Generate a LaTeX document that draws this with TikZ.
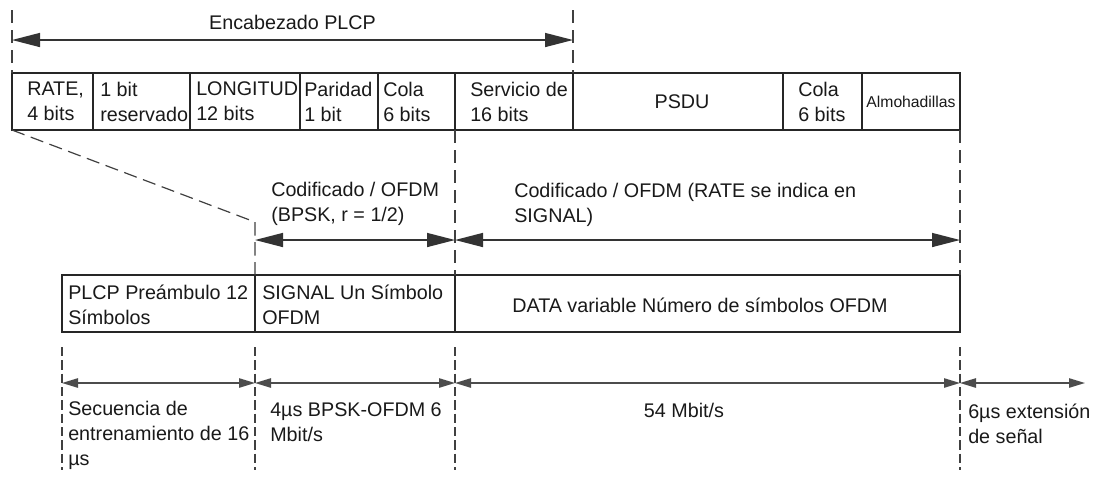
\documentclass[tikz,border=0pt]{standalone}
\usepackage{fontspec}
\setmainfont{Liberation Sans}
\usetikzlibrary{arrows.meta}
\begin{document}
\begin{tikzpicture}[x=0.75pt,y=-0.75pt,
  fld/.style={draw=black!85, line width=1.1pt, minimum height=42.75pt, inner sep=0pt, outer sep=0pt},
  lbl/.style={inner sep=0pt, anchor=west, align=left, font=\fontsize{14.8}{18.8}\selectfont, text=black!90},
  clbl/.style={inner sep=0pt, anchor=center, align=center, font=\fontsize{14.8}{18.8}\selectfont, text=black!90},
  dsh/.style={draw=black!75, line width=0.9pt, dash pattern=on 10pt off 5pt},
  dshb/.style={draw=black!75, line width=0.8pt, dash pattern=on 7pt off 3pt},
  dimbig/.style={draw=black!80, line width=1.1pt, {Triangle[length=21pt,width=10.5pt]}-{Triangle[length=21pt,width=10.5pt]}},
  dimsml/.style={draw=black!70, line width=1.1pt, {Triangle[length=12pt,width=7pt]}-{Triangle[length=12pt,width=7pt]}},
]
\useasboundingbox (0,0) rectangle (1104,480);

% ---------- top row of fields ----------
\node[fld, minimum width=60.75pt] (rate) at (52.5,101.5) {};
\node[fld, minimum width=72.75pt] (resv) at (141.5,101.5) {};
\node[fld, minimum width=82.5pt]  (long) at (245,101.5) {};
\node[fld, minimum width=58.5pt]  (pari) at (339,101.5) {};
\node[fld, minimum width=57.75pt] (colaa) at (416.5,101.5) {};
\node[fld, minimum width=88.5pt]  (serv) at (514,101.5) {};
\node[fld, minimum width=157.5pt] (psdu) at (678,101.5) {};
\node[fld, minimum width=59.25pt] (colab) at (822.5,101.5) {};
\node[fld, minimum width=73.5pt]  (almo) at (911,101.5) {};

\node[lbl] (trate) at (27,101.5) {RATE,\\4 bits};
\node[lbl] (tresv) at (100,101.5) {1 bit\\reservado};
\node[lbl] (tlong) at (196,101.5) {LONGITUD\\12 bits};
\node[lbl] (tpari) at (304,101.5) {Paridad\\1 bit};
\node[lbl] (tcolaa) at (383,101.5) {Cola\\6 bits};
\node[lbl] (tserv) at (470,101.5) {Servicio de\\16 bits};
\node[clbl] (tpsdu) at (682,102) {PSDU};
\node[lbl] (tcolab) at (798,101.5) {Cola\\6 bits};
\node[clbl, font=\fontsize{11.8}{14}\selectfont] (talmo) at (911,102) {Almohadillas};

% ---------- PLCP header dimension ----------
\coordinate (tl) at (12,10);
\coordinate (tr) at (573,10);
\coordinate (al) at (12,40);
\coordinate (ar) at (573,40);
\draw[dsh] (tl) -- (rate.north west);
\draw[dsh] (tr) -- (psdu.north west);
\draw[dimbig] (al) -- (ar);
\node[clbl] (enc) at (292.5,22) {Encabezado PLCP};

% ---------- lower row of fields ----------
\node[fld, minimum width=144.75pt] (pre) at (158.5,303.5) {};
\node[fld, minimum width=150pt]    (sgl) at (355,303.5) {};
\node[fld, minimum width=378.75pt] (dat) at (707.5,303.5) {};

\node[lbl] (tpre) at (68,305) {PLCP Preámbulo 12\\Símbolos};
\node[lbl] (tsgl) at (262,305) {SIGNAL Un Símbolo\\OFDM};
\node[clbl] (tdat) at (700,305) {DATA variable Número de símbolos OFDM};

% ---------- middle dashed guides and dimensions ----------
\coordinate (dg) at (255,222);
\draw[dsh] (rate.south west) -- (dg) -- (sgl.north west);
\draw[dsh] (serv.south west) -- (sgl.north east);
\draw[dsh] (almo.south east) -- (dat.north east);

\coordinate (m0) at (255,240);
\coordinate (m1) at (455,240);
\coordinate (m2) at (960,240);
\draw[dimbig] (m0) -- (m1);
\draw[dimbig] (m1) -- (m2);

\node[lbl] (tc1) at (271,203.5) {Codificado / OFDM\\(BPSK, r = 1/2)};
\node[lbl] (tc2) at (514,204.5) {Codificado / OFDM (RATE se indica en\\SIGNAL)};

% ---------- bottom dashed guides and dimensions ----------
\coordinate (v0t) at (62,347);  \coordinate (v0b) at (62,470);
\coordinate (v1t) at (255,347); \coordinate (v1b) at (255,470);
\coordinate (v2t) at (455,347); \coordinate (v2b) at (455,470);
\coordinate (v3t) at (960,347); \coordinate (v3b) at (960,470);
\draw[dshb] (v0t) -- (v0b);
\draw[dshb] (v1t) -- (v1b);
\draw[dshb] (v2t) -- (v2b);
\draw[dshb] (v3t) -- (v3b);

\coordinate (q0) at (62,383);
\coordinate (q1) at (255,383);
\coordinate (q2) at (455,383);
\coordinate (q3) at (960,383);
\coordinate (q4) at (1085,383);
\draw[dimsml] (q0) -- (q1);
\draw[dimsml] (q1) -- (q2);
\draw[dimsml] (q2) -- (q3);
\draw[dimsml] (q3) -- (q4);

\node[lbl] (tb1) at (68,435) {Secuencia de\\entrenamiento de 16\\µs};
\node[lbl] (tb2) at (270,422.5) {4µs BPSK-OFDM 6\\Mbit/s};
\node[clbl] (tb3) at (684,410) {54 Mbit/s};
\node[lbl] (tb4) at (968,423.5) {6µs extensión\\de señal};
\end{tikzpicture}
\end{document}
